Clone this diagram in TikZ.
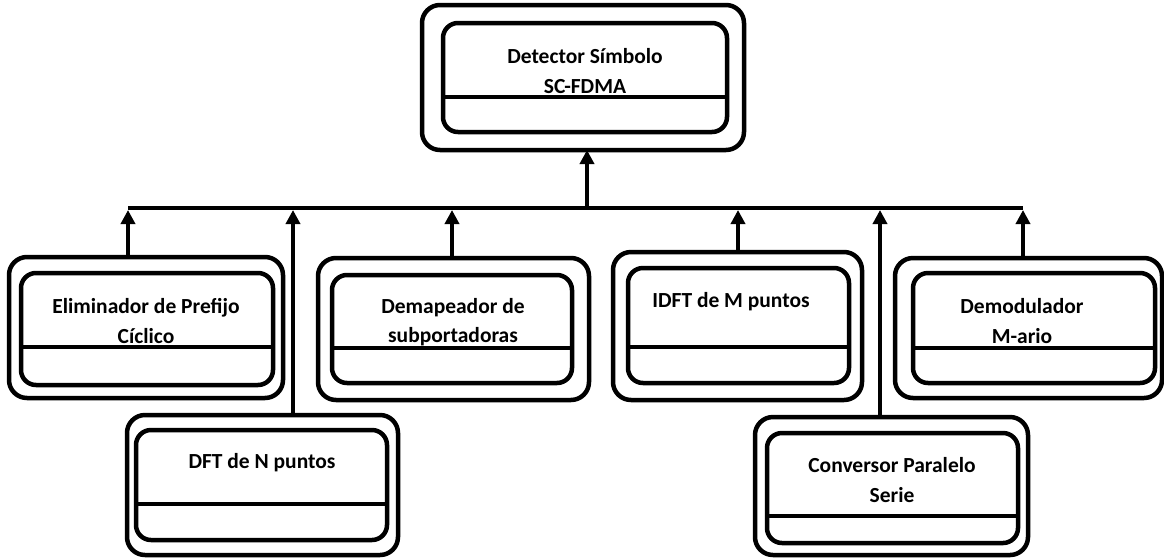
\documentclass[tikz,border=0pt]{standalone}
\usepackage{fontspec}
\setmainfont{Carlito}
\usetikzlibrary{arrows.meta}
\begin{document}
\begin{tikzpicture}[x=1pt,y=-1pt,
  outerbox/.style={draw, line width=4.5pt, rounded corners=18pt, inner sep=0pt, outer sep=0pt, anchor=north west},
  innerbox/.style={draw, line width=4.5pt, rounded corners=15pt, inner sep=0pt, outer sep=0pt, anchor=north west},
  divider/.style={line width=3.5pt},
  lbl/.style={anchor=base, inner sep=0pt, font=\fontsize{21.5}{25}\selectfont\bfseries},
  busline/.style={line width=4.5pt},
  uparrow/.style={line width=4pt, -{Triangle[width=14pt,length=14pt]}}]
\useasboundingbox (0,0) rectangle (1164,558);

% top block
\node[outerbox, minimum width=322pt, minimum height=145pt] (topO) at (422,5) {};
\node[innerbox, minimum width=284pt, minimum height=109pt] (topI) at (443,23) {};
\draw[divider] (topI.west |- 0,97) -- (topI.east |- 0,97);
\node[lbl] (topT1) at (585,63) {Detector Símbolo};
\node[lbl] (topT2) at (585,93) {SC-FDMA};

% Eliminador de Prefijo Cíclico
\node[outerbox, minimum width=274pt, minimum height=141pt] (elimO) at (9,257) {};
\node[innerbox, minimum width=252pt, minimum height=112pt] (elimI) at (21,273) {};
\draw[divider] (elimI.west |- 0,347) -- (elimI.east |- 0,347);
\node[lbl] (elimT1) at (146,313) {Eliminador de Prefijo};
\node[lbl] (elimT2) at (146,343) {Cíclico};

% DFT de N puntos
\node[outerbox, minimum width=271pt, minimum height=140pt] (dftO) at (127,415) {};
\node[innerbox, minimum width=251pt, minimum height=110pt] (dftI) at (136,430) {};
\draw[divider] (dftI.west |- 0,504) -- (dftI.east |- 0,504);
\node[lbl] (dftT) at (262,468) {DFT de N puntos};

% Demapeador de subportadoras
\node[outerbox, minimum width=271pt, minimum height=142pt] (demO) at (318,258) {};
\node[innerbox, minimum width=240pt, minimum height=108pt] (demI) at (332,275) {};
\draw[divider] (demI.west |- 0,348) -- (demI.east |- 0,348);
\node[lbl] (demT1) at (453,313) {Demapeador de};
\node[lbl] (demT2) at (453,342) {subportadoras};

% IDFT de M puntos
\node[outerbox, minimum width=249pt, minimum height=148pt] (idftO) at (613,252) {};
\node[innerbox, minimum width=221pt, minimum height=115pt] (idftI) at (628,268) {};
\draw[divider] (idftI.west |- 0,347) -- (idftI.east |- 0,347);
\node[lbl] (idftT) at (731,307) {IDFT de M puntos};

% Conversor Paralelo Serie
\node[outerbox, minimum width=273pt, minimum height=138pt] (convO) at (755,417) {};
\node[innerbox, minimum width=251pt, minimum height=110pt] (convI) at (767,433) {};
\draw[divider] (convI.west |- 0,516) -- (convI.east |- 0,516);
\node[lbl] (convT1) at (892,472) {Conversor Paralelo};
\node[lbl] (convT2) at (892,502) {Serie};

% Demodulador M-ario
\node[outerbox, minimum width=267pt, minimum height=140pt] (modO) at (895,258) {};
\node[innerbox, minimum width=242pt, minimum height=110pt] (modI) at (913,273) {};
\draw[divider] (modI.west |- 0,348) -- (modI.east |- 0,348);
\node[lbl] (modT1) at (1022,313) {Demodulador};
\node[lbl] (modT2) at (1022,343) {M-ario};

% common bus and taps
\coordinate (bL) at (128,208);
\coordinate (bR) at (1023,208);
\coordinate (bTop) at (587,208);
\coordinate (b2) at (293,210);
\coordinate (b3) at (452,210);
\coordinate (b4) at (738,210);
\coordinate (b5) at (880,210);
\draw[busline] (bL) -- (bR);
\draw[uparrow] (elimO.north -| bL) -- (128,210);
\draw[uparrow] (dftO.north -| b2) -- (b2);
\draw[uparrow] (demO.north -| b3) -- (b3);
\draw[uparrow] (idftO.north -| b4) -- (b4);
\draw[uparrow] (convO.north -| b5) -- (b5);
\draw[uparrow] (modO.north -| bR) -- (1023,210);
\draw[uparrow] (bTop) -- (topO.south -| bTop);
\end{tikzpicture}
\end{document}
